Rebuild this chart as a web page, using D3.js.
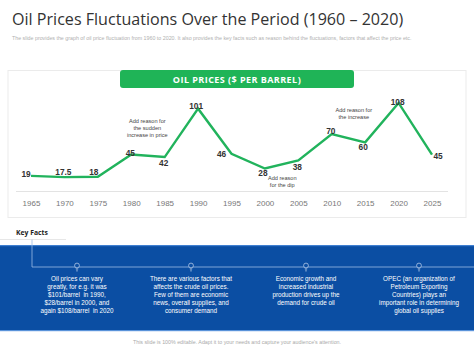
<!DOCTYPE html>
<html><head><meta charset="utf-8">
<script src="https://cdn.jsdelivr.net/npm/d3@7/dist/d3.min.js"></script>
<style>body{margin:0;background:#fff}svg{display:block}</style>
</head><body><svg id="c" width="474" height="355"></svg>
<script>
const years = [1965,1970,1975,1980,1985,1990,1995,2000,2005,2010,2015,2020,2025];
const prices = [19,17.5,18,45,42,101,46,28,38,70,60,108,45];
const priceLabels = ["19","17.5","18","45","42","101","46","28","38","70","60","108","45"];
const tickLabels = ["1965","1970","1975","1980","1985","1990","1995","2000","2005","2010","2015","2020","2025"];
const annotations = [
  {year:1982.4, value:84, lines:["Add reason for","the sudden","increase in price"]},
  {year:2002.6, value:14.5, lines:["Add reason","for the dip"]},
  {year:2013.3, value:97, lines:["Add reason for","the increase"]}
];
const keyFacts = [
  ["Oil prices can vary","greatly, for e.g. it was","$101/barrel  in 1990,","$28/barrel in 2000, and","again $108/barrel  in 2020"],
  ["There are various factors that","affects the crude oil prices.","Few of them are economic","news, overall supplies, and","consumer demand"],
  ["Economic growth and","increased industrial","production drives up the","demand for crude oil"],
  ["OPEC (an organization of","Petroleum Exporting","Countries) plays an","important role in determining","global oil supplies"]
];
// label placement (style): dx, dy relative to point
const labelOffsets = [[-5,1],[-1,-2],[-4,-2],[-1,1.5],[-1,9],[-2,0.5],[-10,3],[-2,7.5],[-1,9.5],[-1,0],[-2,7.5],[-1,2],[6,4]];

const svg = d3.select("#c");
const green = "#21b35c";

svg.append("text").attr("x",12).attr("y",25).attr("font-family","'Open Sans', sans-serif")
  .attr("font-size",16.1).attr("fill","#333").text("Oil Prices Fluctuations Over the Period (1960 – 2020)");
svg.append("text").attr("x",12).attr("y",40).attr("font-family","'Liberation Sans', Arial, sans-serif")
  .attr("font-size",5.3).attr("fill","#b0b0b0")
  .text("The slide provides the graph of oil price fluctuation from 1960 to 2020. It also provides the key facts such as reason behind the fluctuations, factors that affect the price etc.");

// panel
svg.append("rect").attr("x",8).attr("y",70.5).attr("width",458).attr("height",147)
  .attr("fill","#fff").attr("stroke","#ebebeb").attr("stroke-width",1);
svg.append("rect").attr("x",120).attr("y",70).attr("width",234).attr("height",18).attr("rx",3)
  .attr("fill","#1fb457");
svg.append("text").attr("x",237).attr("y",82.5).attr("text-anchor","middle")
  .attr("font-family","'Open Sans', sans-serif").attr("font-weight",700).attr("font-size",9)
  .attr("letter-spacing",0.45).attr("fill","#fff").text("OIL PRICES ($ PER BARREL)");

const x = d3.scaleLinear().domain([1965,2025]).range([31,432]);
const y = d3.scaleLinear().domain([0,120]).range([191.5,93.1]);

const axis = d3.axisBottom(x).tickValues(years).tickFormat((d,i)=>tickLabels[i]).tickSize(0).tickPadding(9);
const ax = svg.append("g").attr("transform","translate(0,191.5)").call(axis);
ax.select(".domain").attr("d","M16,0H448").attr("stroke","#e3e3e3").attr("stroke-width",1.2);
ax.selectAll("text").attr("font-family","'Liberation Sans', Arial, sans-serif").attr("font-size",8).attr("fill","#777");

const line = d3.line().x((d,i)=>x(years[i])).y(d=>y(d));
svg.append("path").datum(prices).attr("d",line).attr("fill","none").attr("stroke",green)
  .attr("stroke-width",2.4).attr("stroke-linejoin","miter");

svg.append("g").selectAll("text").data(prices).join("text")
  .attr("x",(d,i)=>x(years[i])+labelOffsets[i][0])
  .attr("y",(d,i)=>y(d)+labelOffsets[i][1])
  .attr("text-anchor","middle")
  .attr("font-family","'Liberation Sans', Arial, sans-serif").attr("font-weight",700).attr("font-size",8.3)
  .attr("fill","#333").text((d,i)=>priceLabels[i]);

annotations.forEach(a=>{
  const t = svg.append("text").attr("text-anchor","middle")
    .attr("font-family","'Liberation Sans', Arial, sans-serif").attr("font-size",5.6).attr("fill","#444");
  a.lines.forEach((l,k)=>{
    t.append("tspan").attr("x",x(a.year)).attr("y",y(a.value)+k*7).text(l);
  });
});

// key facts
svg.append("text").attr("x",16).attr("y",235).attr("font-family","'Open Sans', sans-serif")
  .attr("font-weight",700).attr("font-size",6.8).attr("fill","#222").text("Key Facts");
svg.append("line").attr("x1",0).attr("x2",66).attr("y1",239.5).attr("y2",239.5).attr("stroke","#ddd").attr("stroke-width",0.7);

svg.append("rect").attr("x",0).attr("y",245).attr("width",474).attr("height",86).attr("fill","#0b4ea3");
svg.append("rect").attr("x",0).attr("y",245).attr("width",474).attr("height",1.2).attr("fill","#3f7fd0");
svg.append("rect").attr("x",0).attr("y",330).attr("width",474).attr("height",1.2).attr("fill","#5a93da");

svg.append("path").attr("d","M32,239.5V267H474").attr("fill","none").attr("stroke","#9cbbe4").attr("stroke-width",0.8);

const colX = [77,191,306,419];
colX.forEach((cx,i)=>{
  const g = svg.append("g").attr("transform",`translate(${cx},267)`);
  g.append("circle").attr("r",2.4).attr("cy",-1.5).attr("fill","#0b4ea3").attr("stroke","#c8d8ef").attr("stroke-width",0.7);
  g.append("path").attr("d","M-1.3,1.8H1.3M-1,3H1M-0.6,4.1H0.6").attr("stroke","#c8d8ef").attr("stroke-width",0.6);
  const t = svg.append("text").attr("text-anchor","middle")
    .attr("font-family","'Liberation Sans', Arial, sans-serif").attr("font-size",6.3).attr("fill","#fff");
  keyFacts[i].forEach((l,k)=>{
    t.append("tspan").attr("x",cx).attr("y",281+k*7.9).attr("xml:space","preserve").text(l);
  });
});

svg.append("text").attr("x",237).attr("y",344).attr("text-anchor","middle")
  .attr("font-family","'Liberation Sans', Arial, sans-serif").attr("font-size",5.3).attr("fill","#aaa")
  .text("This slide is 100% editable. Adapt it to your needs and capture your audience's attention.");
</script></body></html>
